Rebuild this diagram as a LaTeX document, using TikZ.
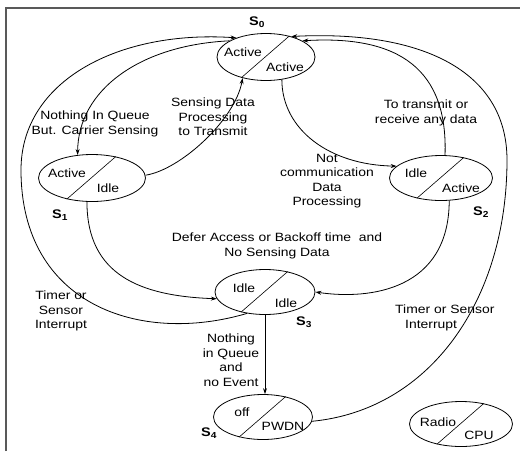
\documentclass[tikz,border=0pt]{standalone}
\usepackage{fontspec}
\setmainfont{Liberation Sans}[FakeStretch=1.16]
\usetikzlibrary{arrows.meta,shapes.geometric}

\tikzset{
  state/.style={draw, ellipse, line width=0.8pt, inner sep=0pt},
  part/.style={inner sep=0pt},
  sname/.style={inner sep=0pt, font=\fontsize{12.5}{14.5}\selectfont\bfseries},
  trans/.style={line width=0.8pt, -{Stealth[length=6pt,width=4pt]}},
  lbl/.style={align=center, inner sep=0pt},
}

\begin{document}
\begin{tikzpicture}[x=1pt, y=-1pt, font=\fontsize{12}{14.5}\selectfont]
    \useasboundingbox (0,0) rectangle (520,451);
    \draw[line width=1.3pt, black!65] (6,451) -- (6,8) -- (520,8);

    % states
    \node[state, minimum width=98pt, minimum height=47pt] (s0) at (266,57) {};
    \node[state, minimum width=107pt, minimum height=47pt] (s1) at (92,178) {};
    \node[state, minimum width=103pt, minimum height=45pt] (s2) at (441,178) {};
    \node[state, minimum width=100pt, minimum height=45pt] (s3) at (265,292) {};
    \node[state, minimum width=99pt, minimum height=45pt] (s4) at (263,417) {};
    \node[state, minimum width=103pt, minimum height=45pt] (key) at (461,424) {};

    \foreach \s in {s0,s1,s2,s3,s4,key}
      \draw[line width=0.6pt] (\s.220) -- (\s.42);

    % radio / cpu parts
    \node[part] (s0radio) at (243,52) {Active};
    \node[part] (s0cpu) at (285,67) {Active};
    \node[part] (s1radio) at (67,173) {Active};
    \node[part] (s1cpu) at (108,188) {Idle};
    \node[part] (s2radio) at (416,173) {Idle};
    \node[part] (s2cpu) at (461,188) {Active};
    \node[part] (s3radio) at (244,288) {Idle};
    \node[part] (s3cpu) at (286,303) {Idle};
    \node[part] (s4radio) at (242,412) {off};
    \node[part] (s4cpu) at (283,426) {PWDN};
    \node[part] (keyradio) at (438,422) {Radio};
    \node[part] (keycpu) at (479,435) {CPU};

    % state names
    \node[sname] (n0) at (257,22) {S\textsubscript{0}};
    \node[sname] (n1) at (60,215) {S\textsubscript{1}};
    \node[sname] (n2) at (481,212) {S\textsubscript{2}};
    \node[sname] (n3) at (304,322) {S\textsubscript{3}};
    \node[sname] (n4) at (209,433) {S\textsubscript{4}};

    % transitions
    \coordinate (lbend) at (21,170);
    \coordinate (rbend) at (507,160);
    \draw[trans] (s3.230) .. controls (140,345) and (21,305) .. (lbend)
                          .. controls (21,80) and (120,30) .. (s0.147);
    \draw[trans] (s4.-5) .. controls (430,410) and (507,300) .. (rbend)
                         .. controls (507,70) and (420,30) .. (s0.39);
    \draw[trans] (s0.156) .. controls (140,45) and (78,90) .. (s1.122);
    \draw[trans] (s1.3) .. controls (180,170) and (235,120) .. (s0.222);
    \draw[trans] (s0.305) .. controls (282,130) and (330,165) .. (s2.165);
    \draw[trans] (s2.80) .. controls (448,70) and (400,35) .. (s0.24);
    \draw[trans] (s2.290) .. controls (449,290) and (370,300) .. (s3.east);
    \draw[trans] (s1.258) .. controls (87,275) and (140,296) .. (s3.188);
    \draw[trans] (s3.south) -- (s3.south |- s4.north);

    % labels
    \node[lbl] (lqueue) at (95,124) {Nothing In Queue\\But. Carrier Sensing};
    \node[lbl] (lsense) at (213,117) {Sensing Data\\Processing\\to Transmit};
    \node[lbl] (ltx) at (426,113) {To transmit or\\receive any data};
    \node[lbl] (lnotcomm) at (327,181) {Not\\communication\\Data\\Processing};
    \node[lbl] (ldefer) at (277,246) {Defer Access or Backoff time~ and\\No Sensing Data};
    \node[lbl] (ltimerl) at (61,311) {Timer or\\Sensor\\Interrupt};
    \node[lbl] (lnoevent) at (231,360) {Nothing\\in Queue\\and\\no Event};
    \node[lbl, align=left, anchor=west] (ltimerr) at (395,318) {Timer or Sensor\\\hspace*{10pt}Interrupt};
\end{tikzpicture}
\end{document}
